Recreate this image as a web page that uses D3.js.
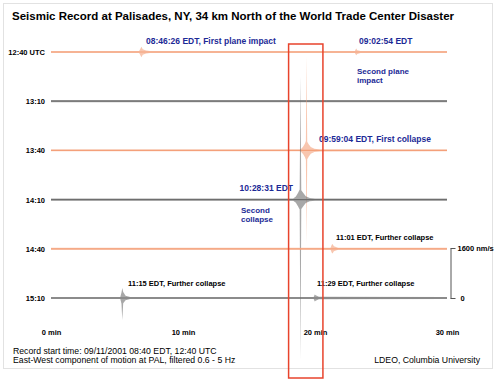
<!DOCTYPE html>
<html>
<head>
<meta charset="utf-8">
<script src="https://cdn.jsdelivr.net/npm/d3@7/dist/d3.min.js"></script>
<style>
  html, body { margin: 0; padding: 0; background: #fff; }
  svg { display: block; font-family: "Liberation Sans", Arial, Helvetica, sans-serif; }
</style>
</head>
<body>
<svg id="chart" width="500" height="383"></svg>
<script>
// ---------------- DATA ----------------
const rowLabels = ["12:40 UTC", "13:10", "13:40", "14:10", "14:40", "15:10"];
const minuteTicks = [0, 10, 20, 30];
const scaleBarTicks = [0, 1600];      // nm/s
const noiseLevel = [30, 35, 30, 35, 30, 35]; // background amplitude, nm/s

// envelope key points per row: [minute, up amplitude nm/s, down amplitude nm/s]
const row0Env = [
  [6.68, 30, 30], [6.78, 110, 110], [6.85, 170, 170], [6.95, 90, 90], [7.2, 50, 50], [7.5, 32, 32],
  [23.02, 30, 30], [23.12, 110, 100], [23.2, 60, 60], [23.45, 35, 35]
];
const row1Env = [];
const row2Env = [
  [18.85, 30, 30], [19.0, 70, 70], [19.12, 130, 130], [19.24, 220, 220], [19.31, 300, 300],
  [19.36, 3000, 3000], [19.41, 280, 280], [19.52, 200, 200], [19.68, 110, 110], [19.95, 55, 55], [20.4, 32, 32]
];
const row3Env = [
  [18.35, 35, 35], [18.55, 100, 100], [18.72, 220, 220], [18.84, 320, 320],
  [18.9, 3940, 5120], [18.96, 300, 300], [19.1, 220, 220], [19.3, 110, 110], [19.6, 55, 55], [20.0, 35, 35]
];
const row4Env = [
  [21.18, 30, 30], [21.27, 130, 130], [21.33, 150, 150], [21.43, 80, 80], [21.75, 32, 32]
];
const row5Env = [
  [5.25, 35, 35], [5.34, 180, 180], [5.4, 320, 700], [5.47, 190, 170], [5.65, 70, 70], [6.0, 35, 35],
  [19.9, 35, 35], [19.98, 110, 110], [20.05, 90, 90], [20.3, 38, 38]
];
const envelopes = [row0Env, row1Env, row2Env, row3Env, row4Env, row5Env];

const titleText = "Seismic Record at Palisades, NY, 34 km North of the World Trade Center Disaster";
const blueNotes = ["08:46:26 EDT, First plane impact", "09:02:54 EDT", "Second plane", "impact",
                   "09:59:04 EDT, First collapse", "10:28:31 EDT", "Second", "collapse"];
const blackNotes = ["11:01 EDT, Further collapse", "11:15 EDT, Further collapse", "11:29 EDT, Further collapse"];
const footerLines = ["Record start time: 09/11/2001 08:40 EDT, 12:40 UTC",
                     "East-West component of motion at PAL, filtered 0.6 - 5 Hz"];
const creditText = "LDEO, Columbia University";
const highlightWindow = [18.0, 20.6]; // minutes

// ---------------- DRAW ----------------
const svg = d3.select("#chart");
const orange = "#f4a07a", gray = "#6e6e6e", blue = "#1c2a96";
const rowColors = rowLabels.map((d, i) => i % 2 === 0 ? orange : gray);

const x = d3.scaleLinear().domain([0, 30]).range([51, 447]);
const y = d3.scalePoint().domain(rowLabels).range([52, 298]);
const amp = d3.scaleLinear().domain([0, 1600]).range([0, 50]);

// frame
svg.append("rect").attr("x", 3.5).attr("y", 3.5).attr("width", 489).attr("height", 365)
  .attr("fill", "none").attr("stroke", "#e2e2e2").attr("stroke-width", 1);

// title
svg.append("text").attr("x", 12).attr("y", 20).attr("font-size", 11.5).attr("font-weight", "bold")
  .attr("fill", "#000").text(titleText);

// traces
rowLabels.forEach((lab, i) => {
  const base = y(lab);
  const n = noiseLevel[i];
  const pts = [[0, n, n], ...envelopes[i], [30, n, n]].sort((a, b) => a[0] - b[0]);
  const area = d3.area()
    .x(d => x(d[0]))
    .y0(d => base + amp(d[2]))
    .y1(d => base - amp(d[1]));
  svg.append("path").attr("d", area(pts)).attr("fill", rowColors[i])
    .attr("fill-opacity", 0.6).attr("stroke", "none");
  svg.append("line").attr("x1", x(0)).attr("x2", x(30)).attr("y1", base).attr("y2", base)
    .attr("stroke", rowColors[i]).attr("stroke-width", 1.2);
});

// row labels
const rowAxis = svg.append("g").attr("transform", "translate(45,0)")
  .call(d3.axisLeft(y).tickSize(0).tickPadding(0));
rowAxis.select(".domain").remove();
rowAxis.selectAll("text").attr("font-size", 7.5).attr("font-weight", "bold")
  .attr("font-family", "Liberation Sans, Arial, sans-serif").attr("fill", "#000");

// x-axis minute labels
const xAxis = svg.append("g").attr("transform", "translate(0,330)")
  .call(d3.axisBottom(x).tickValues(minuteTicks).tickSize(0).tickPadding(0).tickFormat(d => d + " min"));
xAxis.select(".domain").remove();
xAxis.selectAll("text").attr("font-size", 7.5).attr("font-weight", "bold")
  .attr("font-family", "Liberation Sans, Arial, sans-serif").attr("fill", "#000");

// scale bar
const sb = d3.scaleLinear().domain([0, 1600]).range([y("15:10"), y("15:10") - amp(1600)]);
const sbAxis = svg.append("g").attr("transform", "translate(450.5,0)")
  .call(d3.axisRight(sb).tickValues(scaleBarTicks).tickSize(5).tickSizeOuter(0).tickPadding(2)
    .tickFormat(d => d === 0 ? "0" : d + " nm/s"));
sbAxis.select(".domain").attr("stroke", "#555");
sbAxis.selectAll("line").attr("stroke", "#555");
sbAxis.selectAll("text").attr("font-size", 7.5).attr("font-weight", "bold")
  .attr("font-family", "Liberation Sans, Arial, sans-serif").attr("fill", "#000");
sbAxis.selectAll(".tick").filter(d => d === 0).select("text").attr("dx", 3);

// annotations
const blueLayout = [
  [146, 43.5, "start", 8.5], [359, 43.5, "start", 8.5], [357, 73.5, "start", 8], [357, 82.5, "start", 8],
  [319, 142, "start", 8.5], [293, 191, "end", 8.5], [241, 212.5, "start", 8], [241, 221.5, "start", 8]
];
blueNotes.forEach((t, i) => {
  svg.append("text").attr("x", blueLayout[i][0]).attr("y", blueLayout[i][1])
    .attr("text-anchor", blueLayout[i][2]).attr("font-size", blueLayout[i][3]).attr("font-weight", "bold")
    .attr("fill", blue).text(t);
});
const blackLayout = [[336, 240], [128, 286], [317, 286]];
blackNotes.forEach((t, i) => {
  svg.append("text").attr("x", blackLayout[i][0]).attr("y", blackLayout[i][1])
    .attr("font-size", 7.5).attr("font-weight", "bold").attr("fill", "#000").text(t);
});

// footer
footerLines.forEach((t, i) => {
  svg.append("text").attr("x", 13).attr("y", 354 + i * 9).attr("font-size", 8.7)
    .attr("fill", "#000").text(t);
});
svg.append("text").attr("x", 480).attr("y", 363).attr("text-anchor", "end")
  .attr("font-size", 8.7).attr("fill", "#000").text(creditText);

// highlight rectangle
svg.append("rect")
  .attr("x", x(highlightWindow[0])).attr("y", 44)
  .attr("width", x(highlightWindow[1]) - x(highlightWindow[0])).attr("height", 334)
  .attr("fill", "none").attr("stroke", "#e8432c").attr("stroke-width", 1.5);
</script>
</body>
</html>
